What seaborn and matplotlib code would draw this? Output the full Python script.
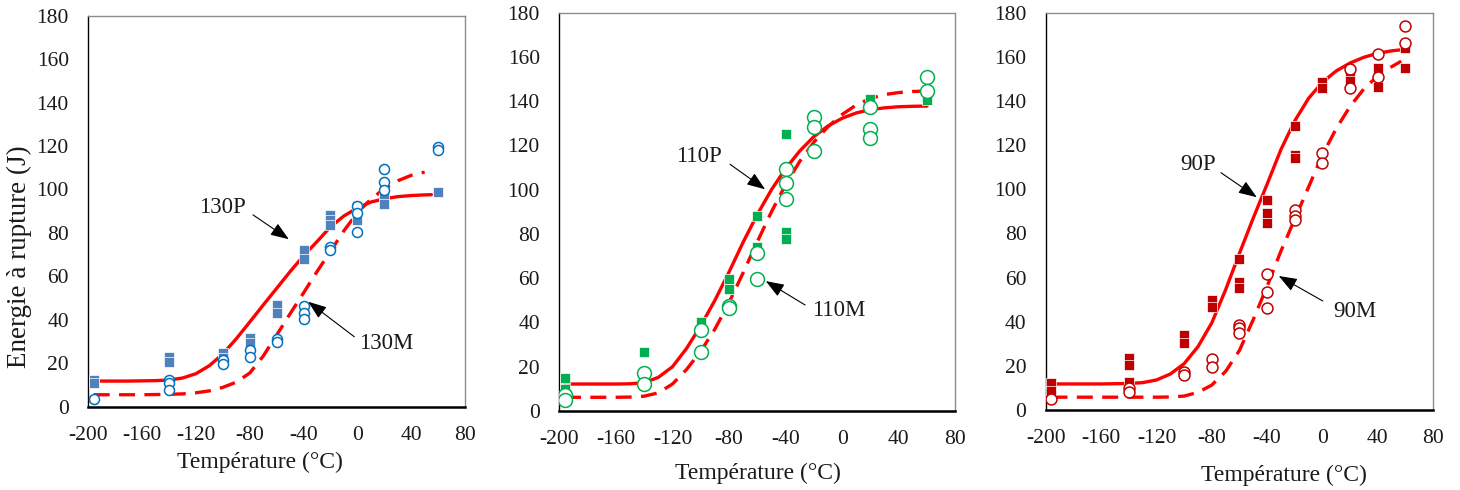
import matplotlib
matplotlib.use('Agg')
import matplotlib.pyplot as plt
import seaborn as sns
import pandas as pd

sns.set_style('white')
plt.rcParams['font.family'] = ['Liberation Serif', 'DejaVu Serif']
plt.rcParams['axes.unicode_minus'] = False

# ---------------- data ----------------
# Panel 130
p130_T = [-196, -196, -140, -140, -100, -100, -80, -80, -60, -60, -40, -40,
          -20, -20, -20, 0, 0, 20, 20, 60]
p130_E = [12.3, 10.8, 23.0, 20.7, 24.6, 22.5, 31.5, 29.5, 46.8, 43.0, 72.1, 67.9,
          88.3, 86.0, 83.7, 92.4, 86.0, 95.9, 93.3, 99.0]
m130_T = [-196, -140, -140, -140, -100, -100, -80, -80, -60, -60, -40, -40, -40,
          -20, -20, 0, 0, 0, 20, 20, 20, 60, 60]
m130_E = [3.4, 12.3, 10.8, 7.7, 21.5, 19.6, 26.1, 22.7, 31.0, 30.0, 46.4, 43.3, 40.2,
          73.4, 72.1, 92.4, 89.0, 80.6, 109.4, 103.6, 99.8, 119.4, 118.2]
fit130P_T = [-196, -190, -180, -170, -160, -150, -140, -130, -120, -110, -100, -90, -80,
             -70, -60, -50, -40, -30, -20, -10, 0, 10, 20, 30, 40, 50, 55]
fit130P_E = [11.8, 11.8, 11.8, 11.8, 11.9, 12.0, 12.3, 13.2, 15.2, 18.9, 24.3, 31.3, 39.0,
             46.8, 54.5, 62.2, 69.5, 76.0, 82.8, 87.8, 91.5, 94.2, 95.7, 96.7, 97.2, 97.5, 97.6]
fit130M_T = [-196, -190, -180, -170, -160, -150, -140, -130, -120, -110, -100, -90, -80,
             -70, -60, -50, -40, -30, -20, -10, 0, 10, 20, 30, 40, 50]
fit130M_E = [5.5, 5.5, 5.5, 5.5, 5.5, 5.6, 5.7, 5.9, 6.4, 7.3, 8.9, 11.3, 15.5,
             23.3, 33.0, 42.8, 52.4, 62.2, 71.5, 81.0, 89.3, 95.5, 100.3, 104.0, 106.5, 108.0]

# Panel 110
p110_T = [-196, -196, -140, -100, -80, -80, -60, -60, -40, -40, -40, 20, 60]
p110_E = [15.0, 9.8, 26.8, 40.4, 59.6, 55.1, 88.1, 74.2, 125.0, 81.0, 77.6, 140.8, 140.5]
m110_T = [-196, -196, -140, -140, -100, -100, -80, -80, -60, -60, -40, -40, -40,
          -20, -20, -20, 20, 20, 20, 60, 60]
m110_E = [7.2, 5.0, 17.0, 12.2, 36.6, 26.8, 47.4, 46.4, 71.5, 59.6, 109.2, 102.9, 95.7,
          133.0, 128.2, 117.5, 137.2, 127.4, 123.5, 151.0, 144.6]
fit110_T = [-196, -190, -180, -170, -160, -150, -140, -130, -120, -110, -100, -90, -80,
            -70, -60, -50, -40, -30, -20, -10, 0, 10, 20, 30, 40, 50, 60]
fit110P_E = [12.2, 12.2, 12.2, 12.2, 12.2, 12.3, 12.8, 15.2, 20.0, 28.3, 38.5, 50.0, 62.8,
             76.3, 88.8, 100.0, 109.5, 117.5, 124.0, 128.8, 132.3, 134.7, 136.2, 137.0,
             137.5, 137.7, 137.8]
fit110M_E = [6.2, 6.2, 6.2, 6.2, 6.2, 6.3, 6.7, 8.2, 12.2, 18.8, 27.0, 37.0, 49.0,
             62.5, 76.5, 90.0, 102.3, 112.8, 121.5, 128.5, 134.0, 138.3, 141.2, 143.0,
             143.9, 144.4, 144.6]

# Panel 90
p90_T = [-196, -196, -140, -140, -140, -100, -100, -80, -80, -60, -60, -60, -40, -40, -40,
         -20, -20, -20, 0, 0, 20, 20, 40, 40, 60, 60]
p90_E = [12.1, 8.5, 23.4, 20.2, 12.8, 34.0, 30.2, 49.8, 46.8, 68.3, 58.1, 55.1, 95.2, 89.1,
         84.9, 128.7, 115.5, 114.0, 148.8, 145.8, 151.0, 149.0, 155.1, 146.5, 163.9, 155.1]
m90_T = [-196, -140, -140, -100, -100, -80, -80, -60, -60, -60, -40, -40, -40,
         -20, -20, -20, 0, 0, 20, 20, 40, 40, 60, 60]
m90_E = [4.8, 9.8, 8.0, 17.4, 15.9, 23.1, 19.6, 38.5, 37.0, 35.0, 61.5, 53.3, 46.1,
         90.6, 87.9, 86.0, 116.6, 112.1, 154.4, 146.0, 161.2, 150.7, 174.1, 166.1]
fit90P_T = [-196, -190, -180, -170, -160, -150, -140, -130, -120, -110, -100, -90, -80,
            -70, -60, -50, -40, -30, -20, -10, 0, 10, 20, 30, 40, 50, 60]
fit90P_E = [11.8, 11.8, 11.8, 11.8, 11.8, 11.9, 12.0, 12.4, 13.6, 16.3, 21.0, 28.7, 39.5,
            54.5, 71.0, 87.0, 102.3, 118.0, 131.0, 141.2, 148.5, 153.6, 157.2, 159.8,
            161.6, 162.7, 163.4]
fit90M_T = [-196, -190, -180, -170, -160, -150, -140, -130, -120, -110, -100, -90, -80,
            -70, -60, -50, -40, -30, -20, -10, 0, 10, 20, 30, 40, 50, 57]
fit90M_E = [5.8, 5.8, 5.8, 5.8, 5.8, 5.8, 5.8, 5.8, 5.8, 5.9, 6.3, 8.0, 11.3,
            17.5, 27.0, 41.0, 56.0, 72.0, 86.5, 101.0, 115.5, 127.5, 137.5, 145.5,
            151.3, 155.5, 158.0]

x_ticks = [-200, -160, -120, -80, -40, 0, 40, 80]
x_ticklabels = ['-200', '-160', '-120', '-80', '-40', '0', '40', '80']
y_ticks = [0, 20, 40, 60, 80, 100, 120, 140, 160, 180]
y_ticklabels = ['0', '20', '40', '60', '80', '100', '120', '140', '160', '180']

panels = [
    dict(name='130', pT=p130_T, pE=p130_E, mT=m130_T, mE=m130_E,
         fPT=fit130P_T, fPE=fit130P_E, fMT=fit130M_T, fME=fit130M_E,
         sq_col='#4F81BD', ci_col='#0070C0', sq_s=46, ci_s=52,
         pos=[0.0605, 0.170, 0.258, 0.798], xlab=(0.456, -0.1415),
         labP=('130P', -100.6, 91.9, -77.6, 88.3, -51.0, 77.1),
         labM=('130M', 21.7, 29.2, -2.3, 32.2, -36.5, 48.3)),
    dict(name='110', pT=p110_T, pE=p110_E, mT=m110_T, mE=m110_E,
         fPT=fit110_T, fPE=fit110P_E, fMT=fit110_T, fME=fit110M_E,
         sq_col='#00B050', ci_col='#00B050', sq_s=50, ci_s=100,
         pos=[0.3831, 0.1612, 0.2712, 0.8129], xlab=(0.5005, -0.1557),
         labP=('110P', -101.5, 114.9, -79.3, 111.5, -54.5, 100.2),
         labM=('110M', -2.5, 45.6, -26.2, 47.9, -54.0, 58.7)),
    dict(name='90', pT=p90_T, pE=p90_E, mT=m90_T, mE=m90_E,
         fPT=fit90P_T, fPE=fit90P_E, fMT=fit90M_T, fME=fit90M_E,
         sq_col='#C00000', ci_col='#C00000', sq_s=60, ci_s=62,
         pos=[0.7164, 0.1633, 0.2651, 0.8108], xlab=(0.615, -0.1636),
         labP=('90P', -89.8, 111.0, -73.4, 107.5, -47.5, 96.4),
         labM=('90M', 23.6, 44.5, 0.2, 49.4, -31.6, 60.7)),
]

fig = plt.figure(figsize=(14.6, 4.9), dpi=100)

for i, p in enumerate(panels):
    ax = fig.add_axes(p['pos'])
    dfP = pd.DataFrame({'T': p['fPT'], 'E': p['fPE']})
    dfM = pd.DataFrame({'T': p['fMT'], 'E': p['fME']})
    sns.lineplot(data=dfP, x='T', y='E', ax=ax, color='#FF0000', lw=2.4,
                 estimator=None, sort=False, zorder=2)
    sns.lineplot(data=dfM, x='T', y='E', ax=ax, color='#FF0000', lw=2.4,
                 estimator=None, sort=False, zorder=2)
    ln = ax.lines[-1]
    ln.set_dashes([4.8, 2.8])
    ln.set_dash_capstyle('butt')

    sq = pd.DataFrame({'T': p['pT'], 'E': p['pE']})
    ci = pd.DataFrame({'T': p['mT'], 'E': p['mE']})
    sns.scatterplot(data=sq, x='T', y='E', ax=ax, marker='s', s=p['sq_s'],
                    color=p['sq_col'], edgecolor='white', linewidth=0.5, zorder=3)
    sns.scatterplot(data=ci, x='T', y='E', ax=ax, marker='o', s=p['ci_s'],
                    color='white', edgecolor=p['ci_col'], linewidth=1.1, zorder=4)

    for lab in (p['labP'], p['labM']):
        txt, tx, ty, sx, sy, hx, hy = lab
        ax.text(tx, ty, txt, ha='center', va='center', fontsize=16.5, color='#1a1a1a', zorder=6)
        ax.annotate('', xy=(hx, hy), xytext=(sx, sy),
                    arrowprops=dict(arrowstyle='-|>,head_length=0.8,head_width=0.3',
                                    color='black', lw=0.8, mutation_scale=14,
                                    shrinkA=0, shrinkB=0), zorder=6)

    ax.set_xlim(-200, 80)
    ax.set_ylim(0, 180)
    ax.set_xticks(x_ticks)
    ax.set_xticklabels(x_ticklabels)
    ax.set_yticks(y_ticks)
    ax.set_yticklabels(y_ticklabels)
    ax.tick_params(axis='x', direction='in', length=5, width=1.3, color='black',
                   labelsize=15.5, pad=14, labelcolor='#1a1a1a')
    ax.tick_params(axis='y', direction='in', length=5, width=1.0, color='#808080',
                   labelsize=15.5, pad=14, labelcolor='#1a1a1a')
    for s in ('top', 'right'):
        ax.spines[s].set_color('#8c8c8c')
        ax.spines[s].set_linewidth(1.0)
    ax.spines['left'].set_color('black')
    ax.spines['left'].set_linewidth(1.0)
    ax.spines['bottom'].set_color('black')
    ax.spines['bottom'].set_linewidth(1.8)

    ax.set_xlabel('Température (°C)', fontsize=17, color='#1a1a1a')
    ax.xaxis.label.set_verticalalignment('center')
    ax.xaxis.set_label_coords(*p['xlab'])
    if i == 0:
        ax.set_ylabel('Energie à rupture (J)', fontsize=19.5, color='#1a1a1a')
        ax.yaxis.label.set_verticalalignment('center')
        ax.yaxis.set_label_coords(-0.184, 0.3836)
    else:
        ax.set_ylabel('')
    if ax.get_legend() is not None:
        ax.get_legend().remove()

fig.savefig('out.png', dpi=100)
